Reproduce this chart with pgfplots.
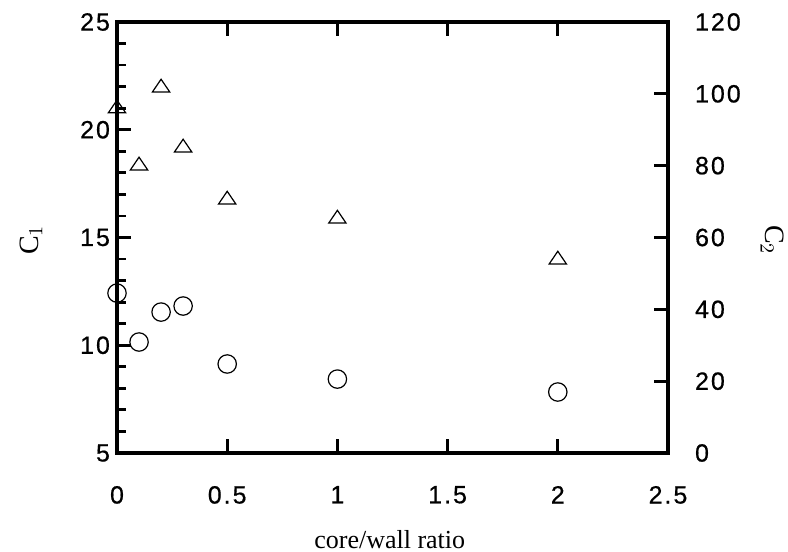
\documentclass[border=0pt]{standalone}
\usepackage{fontspec}
\usepackage{pgfplots}
\pgfplotsset{compat=1.18}
\setmainfont{Liberation Serif}
\newfontfamily\tickfont[LetterSpace=8, FakeBold=0.6]{Liberation Sans}

% C1 values (circles) and C2 values (triangles)
\pgfplotstableread{
ratio C1
0    12.42
0.1  10.15
0.2  11.54
0.3  11.82
0.5  9.13
1    8.43
2    7.83
}\circdata
\pgfplotstableread{
ratio C2
0    95.9
0.1  80.0
0.2  101.7
0.3  85.0
0.5  70.5
1    65.2
2    53.8
}\tridata

\pgfplotsset{
  common/.style={
    scale only axis,
    width=275.5pt, height=215.5pt,
    at={(58.5pt,49.5pt)}, anchor=south west,
    xmin=0, xmax=2.5,
    tick align=inside,
    major tick length=7pt,
    minor tick length=4.5pt,
    every tick/.style={black, line width=1.4pt},
    ticklabel style={font=\tickfont\fontsize{12.5}{14}\selectfont},
    /pgf/number format/assume math mode=true,
    axis line style={line width=1.7pt},
  }
}

\begin{document}
\begin{tikzpicture}
\useasboundingbox (0,0) rectangle (394pt,276pt);
\begin{axis}[common,
    ymin=5, ymax=25,
    xtick={0,0.5,1,1.5,2,2.5},
    ytick={5,10,15,20,25},
    minor y tick num=4,
    xtick pos=both, ytick pos=left,
    xticklabel style={yshift=-13pt},
    xlabel={core/wall ratio},
    ylabel={C$_1$},
    xlabel style={font=\fontsize{13}{15}\selectfont, at={(axis description cs:0.495,-0.2)}, anchor=center},
    ylabel style={font=\fontsize{14}{16}\selectfont, at={(axis description cs:-0.156,0.494)}, anchor=center, rotate=0},
    ]
  \addplot[only marks, mark=o, mark size=4.6pt, mark options={line width=0.6pt}, black] table[x=ratio, y=C1] {\circdata};
\end{axis}
\begin{axis}[common,
    ymin=0, ymax=120,
    axis x line=none,
    axis y line*=right,
    ytick={0,20,40,60,80,100,120},
    ytick pos=right,
    yticklabel style={xshift=10pt},
    ylabel={C$_2$},
    ylabel style={font=\fontsize{14}{16}\selectfont, at={(axis description cs:1.189,0.494)}, anchor=center, rotate=180},
    ]
  \addplot[only marks, mark=triangle, mark size=5pt, mark options={line width=0.6pt, yscale=0.85}, black] table[x=ratio, y=C2] {\tridata};
\end{axis}
\end{tikzpicture}
\end{document}
